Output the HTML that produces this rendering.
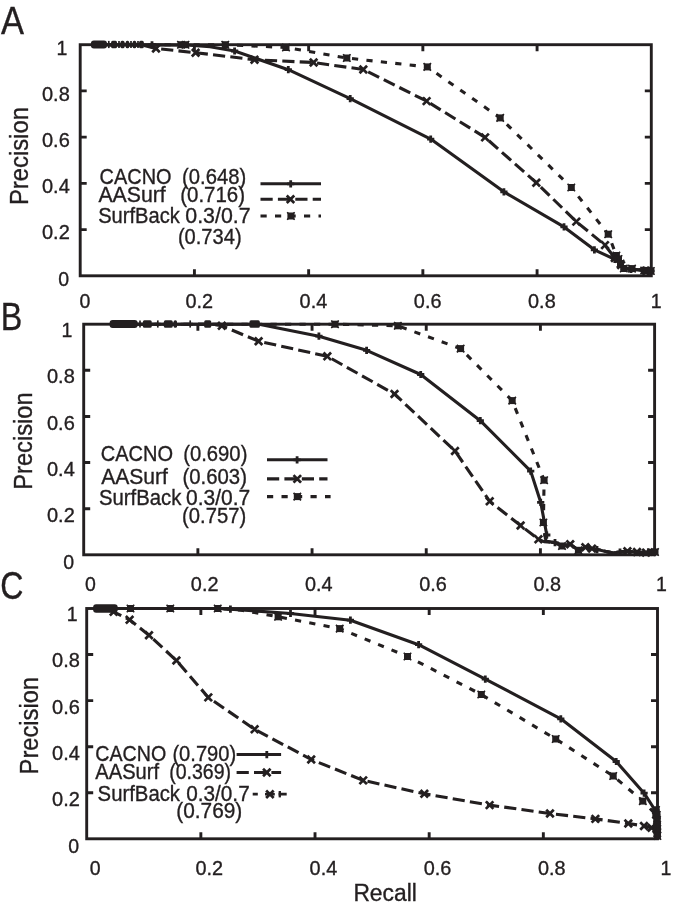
<!DOCTYPE html>
<html lang="en">
<head>
<meta charset="utf-8">
<title>Precision-Recall curves</title>
<style>
html,body{margin:0;padding:0;background:#fff;}
body{width:685px;height:908px;overflow:hidden;}
svg{display:block;will-change:transform;}
svg text{font-family:"Liberation Sans", "DejaVu Sans", sans-serif;stroke:#231f20;stroke-width:0.35px;}
</style>
</head>
<body>
<svg width="685" height="908" viewBox="0 0 685 908">
<rect x="0" y="0" width="685" height="908" fill="#ffffff" stroke="none"/>
<g fill="none" stroke="#231f20"><rect x="80.2" y="44.7" width="571.1" height="231.1" stroke-width="2.9"/>
<path d="M194.42 44.7v6.5M194.42 275.8v-6.5M80.2 90.92h6.5M651.3 90.92h-6.5M308.64 44.7v6.5M308.64 275.8v-6.5M80.2 137.14h6.5M651.3 137.14h-6.5M422.86 44.7v6.5M422.86 275.8v-6.5M80.2 183.36h6.5M651.3 183.36h-6.5M537.08 44.7v6.5M537.08 275.8v-6.5M80.2 229.58h6.5M651.3 229.58h-6.5" stroke-width="2.9"/></g>
<g fill="#231f20">
<text x="1" y="33.7" font-size="38" text-anchor="start" textLength="23" lengthAdjust="spacingAndGlyphs">A</text>
<text x="67.4" y="54.6" font-size="19.5" text-anchor="end">1</text>
<text x="69.8" y="100.82" font-size="19.5" text-anchor="end" textLength="27.8" lengthAdjust="spacingAndGlyphs">0.8</text>
<text x="69.8" y="147.04" font-size="19.5" text-anchor="end" textLength="27.8" lengthAdjust="spacingAndGlyphs">0.6</text>
<text x="69.8" y="193.26" font-size="19.5" text-anchor="end" textLength="27.8" lengthAdjust="spacingAndGlyphs">0.4</text>
<text x="69.8" y="239.48" font-size="19.5" text-anchor="end" textLength="27.8" lengthAdjust="spacingAndGlyphs">0.2</text>
<text x="69" y="285.7" font-size="19.5" text-anchor="end">0</text>
<text x="85" y="308.1" font-size="19.5" text-anchor="middle">0</text>
<text x="199.22" y="308.1" font-size="19.5" text-anchor="middle" textLength="27.6" lengthAdjust="spacingAndGlyphs">0.2</text>
<text x="313.44" y="308.1" font-size="19.5" text-anchor="middle" textLength="27.6" lengthAdjust="spacingAndGlyphs">0.4</text>
<text x="427.66" y="308.1" font-size="19.5" text-anchor="middle" textLength="27.6" lengthAdjust="spacingAndGlyphs">0.6</text>
<text x="541.88" y="308.1" font-size="19.5" text-anchor="middle" textLength="27.6" lengthAdjust="spacingAndGlyphs">0.8</text>
<text x="656.1" y="308.1" font-size="19.5" text-anchor="middle">1</text>
<text transform="translate(27.8 205.1) rotate(-90)" font-size="25" textLength="98" lengthAdjust="spacingAndGlyphs">Precision</text>
<text x="99.6" y="184.1" font-size="21.6" text-anchor="start" textLength="71.9" lengthAdjust="spacingAndGlyphs">CACNO</text>
<text x="182.1" y="184.1" font-size="21.6" text-anchor="start" textLength="64.1" lengthAdjust="spacingAndGlyphs">(0.648)</text>
<text x="98.4" y="202.3" font-size="21.6" text-anchor="start" textLength="67.4" lengthAdjust="spacingAndGlyphs">AASurf</text>
<text x="180.2" y="202.3" font-size="21.6" text-anchor="start" textLength="64.9" lengthAdjust="spacingAndGlyphs">(0.716)</text>
<text x="98.2" y="222.6" font-size="21.6" text-anchor="start" textLength="81.6" lengthAdjust="spacingAndGlyphs">SurfBack</text>
<text x="185.3" y="222.6" font-size="21.6" text-anchor="start" textLength="65.3" lengthAdjust="spacingAndGlyphs">0.3/0.7</text>
<text x="177.9" y="244.1" font-size="21.6" text-anchor="start" textLength="63.7" lengthAdjust="spacingAndGlyphs">(0.734)</text>
</g>
<g fill="none" stroke="#231f20" stroke-linecap="butt">
<path d="M92 44.7 L152 44.9 L190 45.2 L210 46.8 L234.6 51 L288.3 69.7 L350.2 98.6 L430.7 139.1 L503.9 191.8 L564 226.9 L594.4 249.8 L614.8 259.3 L619 262.5 L622 266.5 L625 269 L631 269.3 L644 270.3 L651 270.8" stroke-width="3.1" stroke-linejoin="round"/>
<path d="M148.4 44.9H155.6M152 41.3V48.5" stroke-width="2.8"/>
<path d="M231 51H238.2M234.6 47.4V54.6" stroke-width="2.8"/>
<path d="M284.7 69.7H291.9M288.3 66.1V73.3" stroke-width="2.8"/>
<path d="M346.6 98.6H353.8M350.2 95V102.2" stroke-width="2.8"/>
<path d="M427.1 139.1H434.3M430.7 135.5V142.7" stroke-width="2.8"/>
<path d="M500.3 191.8H507.5M503.9 188.2V195.4" stroke-width="2.8"/>
<path d="M560.4 226.9H567.6M564 223.3V230.5" stroke-width="2.8"/>
<path d="M590.8 249.8H598M594.4 246.2V253.4" stroke-width="2.8"/>
<path d="M611.2 259.3H618.4M614.8 255.7V262.9" stroke-width="2.8"/>
<path d="M618.4 266.5H625.6M622 262.9V270.1" stroke-width="2.8"/>
<path d="M627.4 269.3H634.6M631 265.7V272.9" stroke-width="2.8"/>
<path d="M640.4 270.3H647.6M644 266.7V273.9" stroke-width="2.8"/>
<path d="M647.4 270.8H654.6M651 267.2V274.4" stroke-width="2.8"/>
<path d="M92 44.7 L143.4 45.2 L156 48.5 L195.6 52.7 L254.5 59.7 L313.6 62.5 L363.3 69.5 L426.6 101.1 L485.1 137.4 L536.3 182.7 L576.3 221.6 L605 245.1 L614.8 258 L618.5 261 L621 265 L624 268.5 L631 269 L644 270.5 L651 271" stroke-width="3.1" stroke-dasharray="12.2 5.2" stroke-linejoin="round"/>
<path d="M153.2 45.7L158.8 51.3M153.2 51.3L158.8 45.7" stroke-width="2.7" stroke-linecap="square"/>
<path d="M192.8 49.9L198.4 55.5M192.8 55.5L198.4 49.9" stroke-width="2.7" stroke-linecap="square"/>
<path d="M251.7 56.9L257.3 62.5M251.7 62.5L257.3 56.9" stroke-width="2.7" stroke-linecap="square"/>
<path d="M310.8 59.7L316.4 65.3M310.8 65.3L316.4 59.7" stroke-width="2.7" stroke-linecap="square"/>
<path d="M360.5 66.7L366.1 72.3M360.5 72.3L366.1 66.7" stroke-width="2.7" stroke-linecap="square"/>
<path d="M423.8 98.3L429.4 103.9M423.8 103.9L429.4 98.3" stroke-width="2.7" stroke-linecap="square"/>
<path d="M482.3 134.6L487.9 140.2M482.3 140.2L487.9 134.6" stroke-width="2.7" stroke-linecap="square"/>
<path d="M533.5 179.9L539.1 185.5M533.5 185.5L539.1 179.9" stroke-width="2.7" stroke-linecap="square"/>
<path d="M573.5 218.8L579.1 224.4M573.5 224.4L579.1 218.8" stroke-width="2.7" stroke-linecap="square"/>
<path d="M602.2 242.3L607.8 247.9M602.2 247.9L607.8 242.3" stroke-width="2.7" stroke-linecap="square"/>
<path d="M612 255.2L617.6 260.8M612 260.8L617.6 255.2" stroke-width="2.7" stroke-linecap="square"/>
<path d="M618.2 262.2L623.8 267.8M618.2 267.8L623.8 262.2" stroke-width="2.7" stroke-linecap="square"/>
<path d="M643.2 268L648.8 273.6M643.2 273.6L648.8 268" stroke-width="2.7" stroke-linecap="square"/>
<path d="M92 44.7 L225.3 44.7 L286 47.5 L346.8 58 L427.3 66.9 L500.2 117.9 L571.3 187.5 L608.2 234.2 L616.4 255.5 L619.5 262 L623.8 268.5 L631 268 L644.2 270.5 L650.8 271" stroke-width="3.1" stroke-dasharray="6.2 8.3" stroke-linejoin="round"/>
<path d="M177.5 41.2h7v7h-7z" fill="#231f20" stroke="none"/><path d="M177.25 40.95L184.75 48.45M177.25 48.45L184.75 40.95" stroke-width="1.6"/>
<path d="M182 41.2h7v7h-7z" fill="#231f20" stroke="none"/><path d="M181.75 40.95L189.25 48.45M181.75 48.45L189.25 40.95" stroke-width="1.6"/>
<path d="M221.8 41.2h7v7h-7z" fill="#231f20" stroke="none"/><path d="M221.55 40.95L229.05 48.45M221.55 48.45L229.05 40.95" stroke-width="1.6"/>
<path d="M282.5 44h7v7h-7z" fill="#231f20" stroke="none"/><path d="M282.25 43.75L289.75 51.25M282.25 51.25L289.75 43.75" stroke-width="1.6"/>
<path d="M343.3 54.5h7v7h-7z" fill="#231f20" stroke="none"/><path d="M343.05 54.25L350.55 61.75M343.05 61.75L350.55 54.25" stroke-width="1.6"/>
<path d="M423.8 63.4h7v7h-7z" fill="#231f20" stroke="none"/><path d="M423.55 63.15L431.05 70.65M423.55 70.65L431.05 63.15" stroke-width="1.6"/>
<path d="M496.7 114.4h7v7h-7z" fill="#231f20" stroke="none"/><path d="M496.45 114.15L503.95 121.65M496.45 121.65L503.95 114.15" stroke-width="1.6"/>
<path d="M567.8 184h7v7h-7z" fill="#231f20" stroke="none"/><path d="M567.55 183.75L575.05 191.25M567.55 191.25L575.05 183.75" stroke-width="1.6"/>
<path d="M604.7 230.7h7v7h-7z" fill="#231f20" stroke="none"/><path d="M604.45 230.45L611.95 237.95M604.45 237.95L611.95 230.45" stroke-width="1.6"/>
<path d="M612.9 252h7v7h-7z" fill="#231f20" stroke="none"/><path d="M612.65 251.75L620.15 259.25M612.65 259.25L620.15 251.75" stroke-width="1.6"/>
<path d="M615 255.5h7v7h-7z" fill="#231f20" stroke="none"/><path d="M614.75 255.25L622.25 262.75M614.75 262.75L622.25 255.25" stroke-width="1.6"/>
<path d="M617 260h7v7h-7z" fill="#231f20" stroke="none"/><path d="M616.75 259.75L624.25 267.25M616.75 267.25L624.25 259.75" stroke-width="1.6"/>
<path d="M620.3 265h7v7h-7z" fill="#231f20" stroke="none"/><path d="M620.05 264.75L627.55 272.25M620.05 272.25L627.55 264.75" stroke-width="1.6"/>
<path d="M628.5 265.1h7v7h-7z" fill="#231f20" stroke="none"/><path d="M628.25 264.85L635.75 272.35M628.25 272.35L635.75 264.85" stroke-width="1.6"/>
<path d="M640.7 267h7v7h-7z" fill="#231f20" stroke="none"/><path d="M640.45 266.75L647.95 274.25M640.45 274.25L647.95 266.75" stroke-width="1.6"/>
<path d="M644 267.3h7v7h-7z" fill="#231f20" stroke="none"/><path d="M643.75 267.05L651.25 274.55M643.75 274.55L651.25 267.05" stroke-width="1.6"/>
<path d="M647.3 267.5h7v7h-7z" fill="#231f20" stroke="none"/><path d="M647.05 267.25L654.55 274.75M647.05 274.75L654.55 267.25" stroke-width="1.6"/>
<rect x="90.9" y="40.4" width="16.1" height="8.2" rx="3" fill="#231f20" stroke="none"/>
<rect x="111.1" y="40.7" width="5.9" height="7.6" rx="1.5" fill="#231f20" stroke="none"/>
<rect x="120.5" y="40.7" width="4" height="7.6" rx="1.5" fill="#231f20" stroke="none"/>
<rect x="125.7" y="40.7" width="3.5" height="7.6" rx="1.5" fill="#231f20" stroke="none"/>
<rect x="132.7" y="40.7" width="3.5" height="7.6" rx="1.5" fill="#231f20" stroke="none"/>
<rect x="139.1" y="40.7" width="4.7" height="7.6" rx="1.5" fill="#231f20" stroke="none"/>
<path d="M108.8 40.9V48.1" stroke-width="1.7"/>
<path d="M119 40.9V48.1" stroke-width="1.7"/>
<path d="M131 40.9V48.1" stroke-width="1.7"/>
<path d="M138 40.9V48.1" stroke-width="1.7"/>
<path d="M260.5 183.8 L321 183.8" stroke-width="3.1" stroke-linejoin="round"/>
<path d="M287.1 183.8H294.3M290.7 180.2V187.4" stroke-width="2.8"/>
<path d="M260.5 199.2 L321 199.2" stroke-width="3.1" stroke-dasharray="12.2 5.2" stroke-linejoin="round"/>
<path d="M287.7 196.4L293.3 202M287.7 202L293.3 196.4" stroke-width="2.7" stroke-linecap="square"/>
<path d="M260.5 216 L321 216" stroke-width="3.1" stroke-dasharray="6.2 8.3" stroke-linejoin="round"/>
<path d="M287.4 212.5h7v7h-7z" fill="#231f20" stroke="none"/><path d="M287.15 212.25L294.65 219.75M287.15 219.75L294.65 212.25" stroke-width="1.6"/>
</g>
<g fill="none" stroke="#231f20"><rect x="83.7" y="324.2" width="570.9" height="230.6" stroke-width="2.9"/>
<path d="M197.88 324.2v6.5M197.88 554.8v-6.5M83.7 370.32h6.5M654.6 370.32h-6.5M312.06 324.2v6.5M312.06 554.8v-6.5M83.7 416.44h6.5M654.6 416.44h-6.5M426.24 324.2v6.5M426.24 554.8v-6.5M83.7 462.56h6.5M654.6 462.56h-6.5M540.42 324.2v6.5M540.42 554.8v-6.5M83.7 508.68h6.5M654.6 508.68h-6.5" stroke-width="2.9"/></g>
<g fill="#231f20">
<text x="0.8" y="330.3" font-size="38" text-anchor="start" textLength="21.5" lengthAdjust="spacingAndGlyphs">B</text>
<text x="72.4" y="336.9" font-size="19.5" text-anchor="end">1</text>
<text x="74.8" y="383.24" font-size="19.5" text-anchor="end" textLength="27.8" lengthAdjust="spacingAndGlyphs">0.8</text>
<text x="74.8" y="429.58" font-size="19.5" text-anchor="end" textLength="27.8" lengthAdjust="spacingAndGlyphs">0.6</text>
<text x="74.8" y="475.92" font-size="19.5" text-anchor="end" textLength="27.8" lengthAdjust="spacingAndGlyphs">0.4</text>
<text x="74.8" y="522.26" font-size="19.5" text-anchor="end" textLength="27.8" lengthAdjust="spacingAndGlyphs">0.2</text>
<text x="74" y="568.6" font-size="19.5" text-anchor="end">0</text>
<text x="90.5" y="590.8" font-size="19.5" text-anchor="middle">0</text>
<text x="204.68" y="590.8" font-size="19.5" text-anchor="middle" textLength="27.6" lengthAdjust="spacingAndGlyphs">0.2</text>
<text x="318.86" y="590.8" font-size="19.5" text-anchor="middle" textLength="27.6" lengthAdjust="spacingAndGlyphs">0.4</text>
<text x="433.04" y="590.8" font-size="19.5" text-anchor="middle" textLength="27.6" lengthAdjust="spacingAndGlyphs">0.6</text>
<text x="547.22" y="590.8" font-size="19.5" text-anchor="middle" textLength="27.6" lengthAdjust="spacingAndGlyphs">0.8</text>
<text x="661.4" y="590.8" font-size="19.5" text-anchor="middle">1</text>
<text transform="translate(31.7 489.7) rotate(-90)" font-size="25" textLength="97.3" lengthAdjust="spacingAndGlyphs">Precision</text>
<text x="100.8" y="461.2" font-size="21.6" text-anchor="start" textLength="72.3" lengthAdjust="spacingAndGlyphs">CACNO</text>
<text x="183.2" y="461.2" font-size="21.6" text-anchor="start" textLength="64.2" lengthAdjust="spacingAndGlyphs">(0.690)</text>
<text x="101.2" y="483.6" font-size="21.6" text-anchor="start" textLength="66.8" lengthAdjust="spacingAndGlyphs">AASurf</text>
<text x="182.5" y="483.6" font-size="21.6" text-anchor="start" textLength="64.4" lengthAdjust="spacingAndGlyphs">(0.603)</text>
<text x="98.9" y="505.1" font-size="21.6" text-anchor="start" textLength="82.4" lengthAdjust="spacingAndGlyphs">SurfBack</text>
<text x="186" y="505.1" font-size="21.6" text-anchor="start" textLength="64.3" lengthAdjust="spacingAndGlyphs">0.3/0.7</text>
<text x="182.1" y="522.6" font-size="21.6" text-anchor="start" textLength="64.1" lengthAdjust="spacingAndGlyphs">(0.757)</text>
</g>
<g fill="none" stroke="#231f20" stroke-linecap="butt">
<path d="M111 324.2 L259 324.2 L318.9 336.2 L366.6 350.3 L420.7 374.5 L480.3 420.7 L530.7 471.1 L540.7 502.3 L546.8 535 L545.5 540.5 L545 541 L555 542.6 L562 546 L570.2 544.2 L578.4 550.3 L585.4 547.2 L597 549.6 L606 551.5 L613.4 553 L620 552 L627.4 551.2 L637 552 L646 552.6 L651 552.3 L655 552" stroke-width="3.1" stroke-linejoin="round"/>
<path d="M315.3 336.2H322.5M318.9 332.6V339.8" stroke-width="2.8"/>
<path d="M363 350.3H370.2M366.6 346.7V353.9" stroke-width="2.8"/>
<path d="M417.1 374.5H424.3M420.7 370.9V378.1" stroke-width="2.8"/>
<path d="M476.7 420.7H483.9M480.3 417.1V424.3" stroke-width="2.8"/>
<path d="M527.1 471.1H534.3M530.7 467.5V474.7" stroke-width="2.8"/>
<path d="M537.1 502.3H544.3M540.7 498.7V505.9" stroke-width="2.8"/>
<path d="M543.2 535H550.4M546.8 531.4V538.6" stroke-width="2.8"/>
<path d="M551.4 542.6H558.6M555 539V546.2" stroke-width="2.8"/>
<path d="M593.4 549.6H600.6M597 546V553.2" stroke-width="2.8"/>
<path d="M616.4 552H623.6M620 548.4V555.6" stroke-width="2.8"/>
<path d="M111 324.2 L212 324.2 L221.8 325.8 L258.6 341.2 L327.3 356.3 L394.5 394 L455 451 L489.7 501.3 L520.6 525.5 L538.4 539.3 L544 541.6 L555 542.6 L562 546 L570.2 544.2 L578.4 550.3 L585.4 547.2 L597 549.6 L606 551.5 L613.4 553 L620 552 L627.4 551.2 L637 552 L646 552.6 L651 552.3 L655 552" stroke-width="3.1" stroke-dasharray="12.2 5.2" stroke-linejoin="round"/>
<path d="M219 323L224.6 328.6M219 328.6L224.6 323" stroke-width="2.7" stroke-linecap="square"/>
<path d="M255.8 338.4L261.4 344M255.8 344L261.4 338.4" stroke-width="2.7" stroke-linecap="square"/>
<path d="M324.5 353.5L330.1 359.1M324.5 359.1L330.1 353.5" stroke-width="2.7" stroke-linecap="square"/>
<path d="M391.7 391.2L397.3 396.8M391.7 396.8L397.3 391.2" stroke-width="2.7" stroke-linecap="square"/>
<path d="M452.2 448.2L457.8 453.8M452.2 453.8L457.8 448.2" stroke-width="2.7" stroke-linecap="square"/>
<path d="M486.9 498.5L492.5 504.1M486.9 504.1L492.5 498.5" stroke-width="2.7" stroke-linecap="square"/>
<path d="M517.8 522.7L523.4 528.3M517.8 528.3L523.4 522.7" stroke-width="2.7" stroke-linecap="square"/>
<path d="M535.6 536.5L541.2 542.1M535.6 542.1L541.2 536.5" stroke-width="2.7" stroke-linecap="square"/>
<path d="M567.4 541.4L573 547M567.4 547L573 541.4" stroke-width="2.7" stroke-linecap="square"/>
<path d="M582.6 544.4L588.2 550M582.6 550L588.2 544.4" stroke-width="2.7" stroke-linecap="square"/>
<path d="M589.2 545.8L594.8 551.4M589.2 551.4L594.8 545.8" stroke-width="2.7" stroke-linecap="square"/>
<path d="M624.6 548.4L630.2 554M624.6 554L630.2 548.4" stroke-width="2.7" stroke-linecap="square"/>
<path d="M634.2 549.2L639.8 554.8M634.2 554.8L639.8 549.2" stroke-width="2.7" stroke-linecap="square"/>
<path d="M643.2 549.8L648.8 555.4M643.2 555.4L648.8 549.8" stroke-width="2.7" stroke-linecap="square"/>
<path d="M111 324.2 L335 324.2 L397.8 325.8 L460.6 348.6 L512.2 400.6 L544.1 480.2 L543.4 522.5 L545.8 541.6 L555 542.6 L562 546 L570.2 544.2 L578.4 550.3 L585.4 547.2 L597 549.6 L606 551.5 L613.4 553 L620 552 L627.4 551.2 L637 552 L646 552.6 L651 552.3 L655 552" stroke-width="3.1" stroke-dasharray="6.2 8.3" stroke-linejoin="round"/>
<path d="M331.5 320.7h7v7h-7z" fill="#231f20" stroke="none"/><path d="M331.25 320.45L338.75 327.95M331.25 327.95L338.75 320.45" stroke-width="1.6"/>
<path d="M394.3 322.3h7v7h-7z" fill="#231f20" stroke="none"/><path d="M394.05 322.05L401.55 329.55M394.05 329.55L401.55 322.05" stroke-width="1.6"/>
<path d="M457.1 345.1h7v7h-7z" fill="#231f20" stroke="none"/><path d="M456.85 344.85L464.35 352.35M456.85 352.35L464.35 344.85" stroke-width="1.6"/>
<path d="M508.7 397.1h7v7h-7z" fill="#231f20" stroke="none"/><path d="M508.45 396.85L515.95 404.35M508.45 404.35L515.95 396.85" stroke-width="1.6"/>
<path d="M540.6 476.7h7v7h-7z" fill="#231f20" stroke="none"/><path d="M540.35 476.45L547.85 483.95M540.35 483.95L547.85 476.45" stroke-width="1.6"/>
<path d="M539.9 519h7v7h-7z" fill="#231f20" stroke="none"/><path d="M539.65 518.75L547.15 526.25M539.65 526.25L547.15 518.75" stroke-width="1.6"/>
<path d="M558.5 542.5h7v7h-7z" fill="#231f20" stroke="none"/><path d="M558.25 542.25L565.75 549.75M558.25 549.75L565.75 542.25" stroke-width="1.6"/>
<path d="M574.9 546.8h7v7h-7z" fill="#231f20" stroke="none"/><path d="M574.65 546.55L582.15 554.05M574.65 554.05L582.15 546.55" stroke-width="1.6"/>
<path d="M647.5 548.8h7v7h-7z" fill="#231f20" stroke="none"/><path d="M647.25 548.55L654.75 556.05M647.25 556.05L654.75 548.55" stroke-width="1.6"/>
<path d="M651.5 548.5h7v7h-7z" fill="#231f20" stroke="none"/><path d="M651.25 548.25L658.75 555.75M651.25 555.75L658.75 548.25" stroke-width="1.6"/>
<rect x="109.6" y="319.9" width="28.1" height="8.2" rx="3" fill="#231f20" stroke="none"/>
<rect x="142.9" y="320.2" width="8.8" height="7.6" rx="1.5" fill="#231f20" stroke="none"/>
<rect x="163.9" y="320.2" width="8.8" height="7.6" rx="1.5" fill="#231f20" stroke="none"/>
<rect x="173.6" y="320.2" width="3.4" height="7.6" rx="1.5" fill="#231f20" stroke="none"/>
<rect x="204.2" y="320.2" width="7" height="7.6" rx="1.5" fill="#231f20" stroke="none"/>
<rect x="249.5" y="320.2" width="10.3" height="7.6" rx="1.5" fill="#231f20" stroke="none"/>
<path d="M140 320.4V327.6" stroke-width="1.7"/>
<path d="M157.8 320.4V327.6" stroke-width="1.7"/>
<path d="M190.2 320.4V327.6" stroke-width="1.7"/>
<path d="M267 459.8 L327.5 459.8" stroke-width="3.1" stroke-linejoin="round"/>
<path d="M293.5 459.8H300.7M297.1 456.2V463.4" stroke-width="2.8"/>
<path d="M267 478.9 L327.5 478.9" stroke-width="3.1" stroke-dasharray="12.2 5.2" stroke-linejoin="round"/>
<path d="M294.5 476.1L300.1 481.7M294.5 481.7L300.1 476.1" stroke-width="2.7" stroke-linecap="square"/>
<path d="M267 496.6 L330.6 496.6" stroke-width="3.1" stroke-dasharray="6.2 8.3" stroke-linejoin="round"/>
<path d="M293.8 493.1h7v7h-7z" fill="#231f20" stroke="none"/><path d="M293.55 492.85L301.05 500.35M293.55 500.35L301.05 492.85" stroke-width="1.6"/>
</g>
<g fill="none" stroke="#231f20"><rect x="86.7" y="608.5" width="570.8" height="230.3" stroke-width="2.9"/>
<path d="M200.86 608.5v6.5M200.86 838.8v-6.5M86.7 654.56h6.5M657.5 654.56h-6.5M315.02 608.5v6.5M315.02 838.8v-6.5M86.7 700.62h6.5M657.5 700.62h-6.5M429.18 608.5v6.5M429.18 838.8v-6.5M86.7 746.68h6.5M657.5 746.68h-6.5M543.34 608.5v6.5M543.34 838.8v-6.5M86.7 792.74h6.5M657.5 792.74h-6.5" stroke-width="2.9"/></g>
<g fill="#231f20">
<text x="0.3" y="599" font-size="38" text-anchor="start" textLength="23.2" lengthAdjust="spacingAndGlyphs">C</text>
<text x="77.5" y="620.7" font-size="19.5" text-anchor="end">1</text>
<text x="79.9" y="667.14" font-size="19.5" text-anchor="end" textLength="27.8" lengthAdjust="spacingAndGlyphs">0.8</text>
<text x="79.9" y="713.58" font-size="19.5" text-anchor="end" textLength="27.8" lengthAdjust="spacingAndGlyphs">0.6</text>
<text x="79.9" y="760.02" font-size="19.5" text-anchor="end" textLength="27.8" lengthAdjust="spacingAndGlyphs">0.4</text>
<text x="79.9" y="806.46" font-size="19.5" text-anchor="end" textLength="27.8" lengthAdjust="spacingAndGlyphs">0.2</text>
<text x="79.1" y="852.9" font-size="19.5" text-anchor="end">0</text>
<text x="95.1" y="875" font-size="19.5" text-anchor="middle">0</text>
<text x="209.26" y="875" font-size="19.5" text-anchor="middle" textLength="27.6" lengthAdjust="spacingAndGlyphs">0.2</text>
<text x="323.42" y="875" font-size="19.5" text-anchor="middle" textLength="27.6" lengthAdjust="spacingAndGlyphs">0.4</text>
<text x="437.58" y="875" font-size="19.5" text-anchor="middle" textLength="27.6" lengthAdjust="spacingAndGlyphs">0.6</text>
<text x="551.74" y="875" font-size="19.5" text-anchor="middle" textLength="27.6" lengthAdjust="spacingAndGlyphs">0.8</text>
<text x="665.9" y="875" font-size="19.5" text-anchor="middle">1</text>
<text transform="translate(38.1 774.4) rotate(-90)" font-size="25" textLength="97.4" lengthAdjust="spacingAndGlyphs">Precision</text>
<text x="95.3" y="760.7" font-size="21.6" text-anchor="start" textLength="70.9" lengthAdjust="spacingAndGlyphs">CACNO</text>
<text x="172.4" y="760.7" font-size="21.6" text-anchor="start" textLength="63.8" lengthAdjust="spacingAndGlyphs">(0.790)</text>
<text x="95.3" y="779" font-size="21.6" text-anchor="start" textLength="63.8" lengthAdjust="spacingAndGlyphs">AASurf</text>
<text x="169.2" y="779" font-size="21.6" text-anchor="start" textLength="61.9" lengthAdjust="spacingAndGlyphs">(0.369)</text>
<text x="97.6" y="800.7" font-size="21.6" text-anchor="start" textLength="82.4" lengthAdjust="spacingAndGlyphs">SurfBack</text>
<text x="186.2" y="800.7" font-size="21.6" text-anchor="start" textLength="63.5" lengthAdjust="spacingAndGlyphs">0.3/0.7</text>
<text x="176.3" y="818.3" font-size="21.6" text-anchor="start" textLength="66" lengthAdjust="spacingAndGlyphs">(0.769)</text>
<text x="353.4" y="900.9" font-size="23" text-anchor="start" textLength="63.4" lengthAdjust="spacingAndGlyphs">Recall</text>
</g>
<g fill="none" stroke="#231f20" stroke-linecap="butt">
<path d="M93 608.5 L217.7 608.5 L230.4 609.1 L290.5 613.5 L350.4 620.2 L418.6 644.7 L485.3 679.1 L560.8 718.8 L616.2 761.5 L644.1 793.2 L656.3 812 L656.8 815 L657 820 L657.2 825 L657.3 829 L657.3 833 L657.4 836" stroke-width="3.1" stroke-linejoin="round"/>
<path d="M226.8 609.1H234M230.4 605.5V612.7" stroke-width="2.8"/>
<path d="M286.9 613.5H294.1M290.5 609.9V617.1" stroke-width="2.8"/>
<path d="M346.8 620.2H354M350.4 616.6V623.8" stroke-width="2.8"/>
<path d="M415 644.7H422.2M418.6 641.1V648.3" stroke-width="2.8"/>
<path d="M481.7 679.1H488.9M485.3 675.5V682.7" stroke-width="2.8"/>
<path d="M557.2 718.8H564.4M560.8 715.2V722.4" stroke-width="2.8"/>
<path d="M612.6 761.5H619.8M616.2 757.9V765.1" stroke-width="2.8"/>
<path d="M640.5 793.2H647.7M644.1 789.6V796.8" stroke-width="2.8"/>
<path d="M652.4 810H659.6M656 806.4V813.6" stroke-width="2.8"/>
<path d="M653.2 815H660.4M656.8 811.4V818.6" stroke-width="2.8"/>
<path d="M653.4 820H660.6M657 816.4V823.6" stroke-width="2.8"/>
<path d="M653.6 825H660.8M657.2 821.4V828.6" stroke-width="2.8"/>
<path d="M653.7 829H660.9M657.3 825.4V832.6" stroke-width="2.8"/>
<path d="M653.7 833H660.9M657.3 829.4V836.6" stroke-width="2.8"/>
<path d="M653.8 836H661M657.4 832.4V839.6" stroke-width="2.8"/>
<path d="M93 608.5 L104 608.8 L113.6 611.8 L129.6 619.8 L149 635.2 L176.4 660.5 L208.3 697.4 L254.6 729.3 L311.2 759.5 L363.2 780.4 L424.3 793.8 L489.6 805.1 L550 813.5 L595.4 818.9 L628.3 823.5 L644 826 L651.5 827.7 L656.5 829" stroke-width="3.1" stroke-dasharray="12.2 5.2" stroke-linejoin="round"/>
<path d="M110.8 609L116.4 614.6M110.8 614.6L116.4 609" stroke-width="2.7" stroke-linecap="square"/>
<path d="M126.8 617L132.4 622.6M126.8 622.6L132.4 617" stroke-width="2.7" stroke-linecap="square"/>
<path d="M146.2 632.4L151.8 638M146.2 638L151.8 632.4" stroke-width="2.7" stroke-linecap="square"/>
<path d="M173.6 657.7L179.2 663.3M173.6 663.3L179.2 657.7" stroke-width="2.7" stroke-linecap="square"/>
<path d="M205.5 694.6L211.1 700.2M205.5 700.2L211.1 694.6" stroke-width="2.7" stroke-linecap="square"/>
<path d="M251.8 726.5L257.4 732.1M251.8 732.1L257.4 726.5" stroke-width="2.7" stroke-linecap="square"/>
<path d="M308.4 756.7L314 762.3M308.4 762.3L314 756.7" stroke-width="2.7" stroke-linecap="square"/>
<path d="M360.4 777.6L366 783.2M360.4 783.2L366 777.6" stroke-width="2.7" stroke-linecap="square"/>
<path d="M421.5 791L427.1 796.6M421.5 796.6L427.1 791" stroke-width="2.7" stroke-linecap="square"/>
<path d="M486.8 802.3L492.4 807.9M486.8 807.9L492.4 802.3" stroke-width="2.7" stroke-linecap="square"/>
<path d="M547.2 810.7L552.8 816.3M547.2 816.3L552.8 810.7" stroke-width="2.7" stroke-linecap="square"/>
<path d="M592.6 816.1L598.2 821.7M592.6 821.7L598.2 816.1" stroke-width="2.7" stroke-linecap="square"/>
<path d="M625.5 820.7L631.1 826.3M625.5 826.3L631.1 820.7" stroke-width="2.7" stroke-linecap="square"/>
<path d="M641.2 823.2L646.8 828.8M641.2 828.8L646.8 823.2" stroke-width="2.7" stroke-linecap="square"/>
<path d="M648.7 824.9L654.3 830.5M648.7 830.5L654.3 824.9" stroke-width="2.7" stroke-linecap="square"/>
<path d="M653.7 826.2L659.3 831.8M653.7 831.8L659.3 826.2" stroke-width="2.7" stroke-linecap="square"/>
<path d="M93 608.5 L217.7 608.5 L241.2 610.1 L278.1 616.8 L339.7 628.6 L407.5 656.5 L481.3 694.5 L555.7 739 L613.2 776 L642.8 801.1 L655.8 814.5 L657 820 L657.2 825 L657.3 829 L657.3 833 L657.4 836" stroke-width="3.1" stroke-dasharray="6.2 8.3" stroke-linejoin="round"/>
<path d="M127 605h7v7h-7z" fill="#231f20" stroke="none"/><path d="M126.75 604.75L134.25 612.25M126.75 612.25L134.25 604.75" stroke-width="1.6"/>
<path d="M166.8 605h7v7h-7z" fill="#231f20" stroke="none"/><path d="M166.55 604.75L174.05 612.25M166.55 612.25L174.05 604.75" stroke-width="1.6"/>
<path d="M214.2 605h7v7h-7z" fill="#231f20" stroke="none"/><path d="M213.95 604.75L221.45 612.25M213.95 612.25L221.45 604.75" stroke-width="1.6"/>
<path d="M274.6 613.3h7v7h-7z" fill="#231f20" stroke="none"/><path d="M274.35 613.05L281.85 620.55M274.35 620.55L281.85 613.05" stroke-width="1.6"/>
<path d="M336.2 625.1h7v7h-7z" fill="#231f20" stroke="none"/><path d="M335.95 624.85L343.45 632.35M335.95 632.35L343.45 624.85" stroke-width="1.6"/>
<path d="M404 653h7v7h-7z" fill="#231f20" stroke="none"/><path d="M403.75 652.75L411.25 660.25M403.75 660.25L411.25 652.75" stroke-width="1.6"/>
<path d="M477.8 691h7v7h-7z" fill="#231f20" stroke="none"/><path d="M477.55 690.75L485.05 698.25M477.55 698.25L485.05 690.75" stroke-width="1.6"/>
<path d="M552.2 735.5h7v7h-7z" fill="#231f20" stroke="none"/><path d="M551.95 735.25L559.45 742.75M551.95 742.75L559.45 735.25" stroke-width="1.6"/>
<path d="M609.7 772.5h7v7h-7z" fill="#231f20" stroke="none"/><path d="M609.45 772.25L616.95 779.75M609.45 779.75L616.95 772.25" stroke-width="1.6"/>
<path d="M639.3 797.6h7v7h-7z" fill="#231f20" stroke="none"/><path d="M639.05 797.35L646.55 804.85M639.05 804.85L646.55 797.35" stroke-width="1.6"/>
<path d="M652.3 811h7v7h-7z" fill="#231f20" stroke="none"/><path d="M652.05 810.75L659.55 818.25M652.05 818.25L659.55 810.75" stroke-width="1.6"/>
<path d="M652.5 806.5h7v7h-7z" fill="#231f20" stroke="none"/><path d="M652.25 806.25L659.75 813.75M652.25 813.75L659.75 806.25" stroke-width="1.6"/>
<path d="M653.3 811.5h7v7h-7z" fill="#231f20" stroke="none"/><path d="M653.05 811.25L660.55 818.75M653.05 818.75L660.55 811.25" stroke-width="1.6"/>
<path d="M653.5 816.5h7v7h-7z" fill="#231f20" stroke="none"/><path d="M653.25 816.25L660.75 823.75M653.25 823.75L660.75 816.25" stroke-width="1.6"/>
<path d="M653.7 821.5h7v7h-7z" fill="#231f20" stroke="none"/><path d="M653.45 821.25L660.95 828.75M653.45 828.75L660.95 821.25" stroke-width="1.6"/>
<path d="M653.8 825.5h7v7h-7z" fill="#231f20" stroke="none"/><path d="M653.55 825.25L661.05 832.75M653.55 832.75L661.05 825.25" stroke-width="1.6"/>
<path d="M653.8 829.5h7v7h-7z" fill="#231f20" stroke="none"/><path d="M653.55 829.25L661.05 836.75M653.55 836.75L661.05 829.25" stroke-width="1.6"/>
<path d="M653.9 832.5h7v7h-7z" fill="#231f20" stroke="none"/><path d="M653.65 832.25L661.15 839.75M653.65 839.75L661.15 832.25" stroke-width="1.6"/>
<rect x="93.1" y="604.2" width="24.6" height="8.6" rx="3" fill="#231f20" stroke="none"/>
<path d="M236.6 754.5 L281.1 754.5" stroke-width="3.1" stroke-linejoin="round"/>
<path d="M263.2 754.6H270.4M266.8 751V758.2" stroke-width="2.8"/>
<path d="M236.6 772.5 L281.1 772.5" stroke-width="3.1" stroke-dasharray="12.2 5.2" stroke-linejoin="round"/>
<path d="M264 769.7L269.6 775.3M264 775.3L269.6 769.7" stroke-width="2.7" stroke-linecap="square"/>
<path d="M252.7 794.2H257.8M278.6 794.2H286.7" stroke-width="2.75"/>
<path d="M267.1 791.4L272.7 797M267.1 797L272.7 791.4" stroke-width="2.7" stroke-linecap="square"/>
<path d="M265 794.2H274.8" stroke-width="2.6"/>
<path d="M279.8 791V797.4" stroke-width="2.3"/>
</g>
</svg>
</body>
</html>
